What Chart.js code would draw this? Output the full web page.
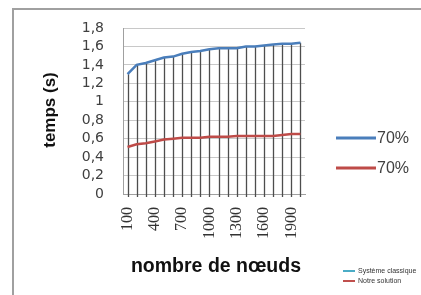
<!DOCTYPE html>
<html>
<head>
<meta charset="utf-8">
<script src="https://cdn.jsdelivr.net/npm/chart.js@4"></script>
<style>
  html, body { margin: 0; padding: 0; background: #fff; }
  #wrap { width: 421px; height: 295px; }
</style>
</head>
<body>
<div id="wrap"><canvas id="chart" width="421" height="295"></canvas></div>
<script>
const noeuds = [100, 200, 300, 400, 500, 600, 700, 800, 900, 1000,
	1100, 1200, 1300, 1400, 1500, 1600, 1700, 1800, 1900, 2000];
const systemeClassique = [1.30, 1.40, 1.42, 1.45, 1.48, 1.49, 1.52, 1.54, 1.55, 1.57,
	1.58, 1.58, 1.58, 1.60, 1.60, 1.61, 1.62, 1.63, 1.63, 1.64];
const notreSolution = [0.51, 0.54, 0.55, 0.57, 0.59, 0.60, 0.61, 0.61, 0.61, 0.62,
	0.62, 0.62, 0.63, 0.63, 0.63, 0.63, 0.63, 0.64, 0.65, 0.65];
const legendLabels = ['70%', '70%'];
const smallLegend = ['Système classique', 'Notre solution'];

const blue = '#4a7ebb';
const red = '#be4b48';

// lignes de projection (drop lines) + textes
const decor = {
	id: 'decor',
	beforeDraw(chart) {
		const ctx = chart.ctx;
		ctx.save();
		ctx.fillStyle = '#fff';
		ctx.fillRect(0, 0, chart.width, chart.height);
		ctx.strokeStyle = '#a0a0a0';
		ctx.lineWidth = 2;
		ctx.strokeRect(13, 9, 600, 600);
		ctx.restore();
	},
	beforeDatasetsDraw(chart) {
		const ctx = chart.ctx;
		const x = chart.scales.x, y = chart.scales.y;
		ctx.save();
		ctx.strokeStyle = '#4d4d4d';
		ctx.lineWidth = 1.3;
		noeuds.forEach((n, i) => {
			const top = Math.max(systemeClassique[i], notreSolution[i]);
			const px = Math.round(x.getPixelForValue(i)) + 0.5;
			ctx.beginPath();
			ctx.moveTo(px, y.getPixelForValue(top));
			ctx.lineTo(px, y.getPixelForValue(0) + 3);
			ctx.stroke();
		});
		ctx.restore();
	},
	afterDraw(chart) {
		const ctx = chart.ctx;
		ctx.save();
		// titres des axes
		ctx.fillStyle = '#111';
		ctx.textAlign = 'center';
		ctx.textBaseline = 'middle';
		ctx.font = 'bold 19.5px "Liberation Sans", sans-serif';
		ctx.fillText('nombre de nœuds', 216, 267);
		ctx.save();
		ctx.translate(50, 110);
		ctx.rotate(-Math.PI / 2);
		ctx.font = 'bold 17px "Liberation Sans", sans-serif';
		ctx.fillText('temps (s)', 0, 0);
		ctx.restore();

		// légende principale
		const colors = [blue, red];
		const ys = [138, 168];
		ctx.lineWidth = 3;
		ctx.textAlign = 'left';
		ctx.font = '16px "Liberation Sans", sans-serif';
		legendLabels.forEach((t, i) => {
			ctx.strokeStyle = colors[i];
			ctx.beginPath();
			ctx.moveTo(336, ys[i]);
			ctx.lineTo(376, ys[i]);
			ctx.stroke();
			ctx.fillStyle = '#404040';
			ctx.fillText(t, 377, ys[i] + 1);
		});

		// petite légende
		const smallColors = ['#4bacc6', '#c0504d'];
		const sy = [271, 281];
		ctx.lineWidth = 2;
		ctx.font = '7px "Liberation Sans", sans-serif';
		smallLegend.forEach((t, i) => {
			ctx.strokeStyle = smallColors[i];
			ctx.beginPath();
			ctx.moveTo(343, sy[i]);
			ctx.lineTo(355, sy[i]);
			ctx.stroke();
			ctx.fillStyle = '#333';
			ctx.fillText(t, 358, sy[i]);
		});
		ctx.restore();
	}
};

const config = {
	type: 'line',
	data: {
		labels: noeuds,
		datasets: [
			{
				label: 'Système classique',
				data: systemeClassique,
				borderColor: blue,
				borderWidth: 2.5,
				pointRadius: 0,
				tension: 0,
			},
			{
				label: 'Notre solution',
				data: notreSolution,
				borderColor: red,
				borderWidth: 2.5,
				pointRadius: 0,
				tension: 0,
			},
		],
	},
	options: {
		responsive: false,
		animation: false,
		layout: { padding: { top: 28, right: 116, bottom: 0, left: 0 } },
		plugins: {
			legend: { display: false },
			tooltip: { enabled: false },
		},
		scales: {
			x: {
				offset: true,
				afterFit(scale) { scale.height = 101; },
				grid: {
					offset: false,
					drawOnChartArea: false,
					drawTicks: false,
				},
				border: { color: '#a0a0a0', width: 1 },
				ticks: {
					autoSkip: false,
					maxRotation: 90,
					minRotation: 90,
					padding: 13,
					color: '#333',
					font: { family: '"Liberation Serif", serif', size: 16 },
					callback(v, i) { return i % 3 === 0 ? String(noeuds[i]) : ''; },
				},
			},
			y: {
				min: 0,
				max: 1.8,
				afterFit(scale) { scale.width = 123; },
				grid: { color: '#c8c8c8', drawTicks: false },
				border: { color: '#a0a0a0', width: 1 },
				ticks: {
					stepSize: 0.2,
					autoSkip: false,
					padding: 19,
					color: '#404040',
					font: { family: '"DejaVu Sans", sans-serif', size: 14 },
					callback(v) { return String(Math.round(v * 10) / 10).replace('.', ','); },
				},
			},
		},
	},
	plugins: [decor],
};

new Chart(document.getElementById('chart'), config);
</script>
</body>
</html>
